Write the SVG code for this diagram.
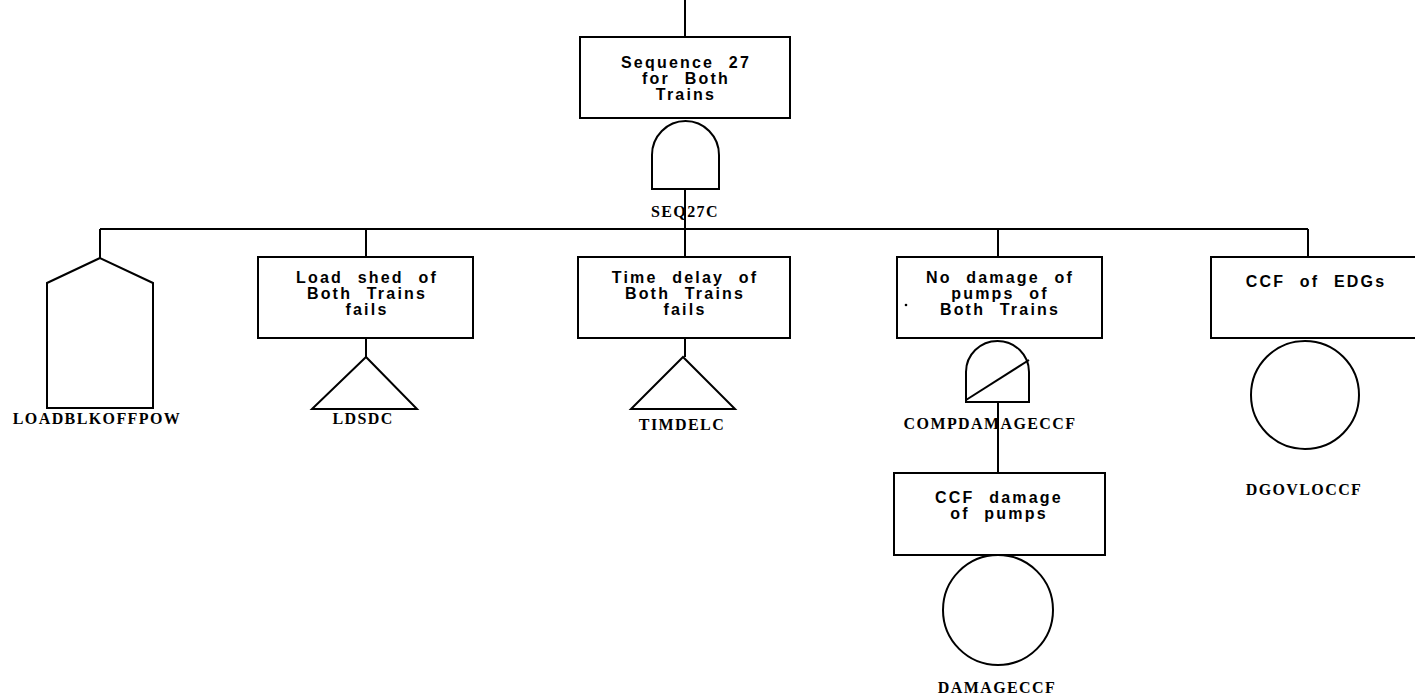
<svg xmlns="http://www.w3.org/2000/svg" width="1415" height="697" viewBox="0 0 1415 697">
  <style>
    .ln { fill: none; stroke: #000; stroke-width: 2; }
    .sh { fill: #fff; stroke: #000; stroke-width: 2; }
    .box { font-family: "Liberation Sans", Arial, sans-serif; font-weight: bold; font-size: 16px; letter-spacing: 2.2px; word-spacing: 8px; text-anchor: middle; fill: #000; }
    .id { font-family: "Liberation Serif", "Times New Roman", serif; font-weight: bold; font-size: 16px; letter-spacing: 1.4px; text-anchor: middle; fill: #000; }
  </style>

  <!-- connectors -->
  <g id="connectors">
    <line class="ln" x1="685" y1="0" x2="685" y2="37"/>
    <line class="ln" x1="685" y1="189" x2="685" y2="229"/>
    <line class="ln" x1="100" y1="229" x2="1308" y2="229"/>
    <line class="ln" x1="100" y1="229" x2="100" y2="258"/>
    <line class="ln" x1="366" y1="229" x2="366" y2="257"/>
    <line class="ln" x1="685" y1="229" x2="685" y2="257"/>
    <line class="ln" x1="998" y1="229" x2="998" y2="257"/>
    <line class="ln" x1="1308" y1="229" x2="1308" y2="257"/>
    <line class="ln" x1="366" y1="338" x2="366" y2="357"/>
    <line class="ln" x1="685" y1="338" x2="685" y2="357"/>
    <line class="ln" x1="998" y1="402" x2="998" y2="473"/>
  </g>

  <!-- top event and AND gate -->
  <g id="SEQ27C">
    <rect class="sh" x="580" y="37" width="210" height="81"/>
    <text class="box" x="686" y="68">Sequence 27</text>
    <text class="box" x="686" y="84">for Both</text>
    <text class="box" x="686" y="100">Trains</text>
    <path class="sh" d="M652,189 L652,155 A33.5,34 0 0 1 719,155 L719,189 Z"/>
    <text class="id" x="685" y="217">SEQ27C</text>
  </g>

  <!-- house event -->
  <g id="LOADBLKOFFPOW">
    <path class="sh" d="M100,258 L47,283 L47,408 L153,408 L153,283 Z"/>
    <text class="id" x="97" y="424">LOADBLKOFFPOW</text>
  </g>

  <!-- transfer: load shed -->
  <g id="LDSDC">
    <rect class="sh" x="258" y="257" width="215" height="81"/>
    <text class="box" x="367" y="283">Load shed of</text>
    <text class="box" x="367" y="299">Both Trains</text>
    <text class="box" x="367" y="315">fails</text>
    <path class="sh" d="M366,357 L312,409 L417,409 Z"/>
    <text class="id" x="363" y="424">LDSDC</text>
  </g>

  <!-- transfer: time delay -->
  <g id="TIMDELC">
    <rect class="sh" x="578" y="257" width="212" height="81"/>
    <text class="box" x="685" y="283">Time delay of</text>
    <text class="box" x="685" y="299">Both Trains</text>
    <text class="box" x="685" y="315">fails</text>
    <path class="sh" d="M683,357 L631,409 L735,409 Z"/>
    <text class="id" x="682" y="430">TIMDELC</text>
  </g>

  <!-- pump damage gate -->
  <g id="COMPDAMAGECCF">
    <rect class="sh" x="897" y="257" width="205" height="81"/>
    <text class="box" x="1000" y="283">No damage of</text>
    <text class="box" x="1000" y="299">pumps of</text>
    <text class="box" x="1000" y="315">Both Trains</text>
    <circle cx="906" cy="305" r="1.3" fill="#000"/>
    <path class="sh" d="M966,402 L966,372 A31.5,31 0 0 1 1029,372 L1029,402 Z"/>
    <line class="ln" x1="966" y1="400" x2="1029" y2="360"/>
    <text class="id" x="990" y="429">COMPDAMAGECCF</text>
  </g>

  <!-- basic event: pump damage -->
  <g id="DAMAGECCF">
    <rect class="sh" x="894" y="473" width="211" height="82"/>
    <text class="box" x="999" y="503">CCF damage</text>
    <text class="box" x="999" y="519">of pumps</text>
    <circle class="sh" cx="998" cy="610" r="55"/>
    <text class="id" x="997" y="693">DAMAGECCF</text>
  </g>

  <!-- basic event: EDGs -->
  <g id="DGOVLOCCF">
    <rect class="sh" x="1211" y="257" width="210" height="81"/>
    <text class="box" x="1316" y="287">CCF of EDGs</text>
    <circle class="sh" cx="1305" cy="395" r="54"/>
    <text class="id" x="1304" y="495">DGOVLOCCF</text>
  </g>
</svg>
